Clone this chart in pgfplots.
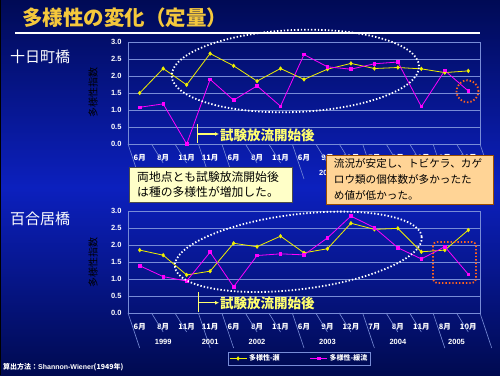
\documentclass[border=0pt]{standalone}
\usepackage{pgfplots}
\pgfplotsset{compat=1.18}
\usepackage{fontspec}
\setmainfont{Noto Sans CJK JP}
\newfontfamily\latin{Liberation Sans}
\usetikzlibrary{arrows.meta}
\definecolor{bgtop}{RGB}{0,10,85}
\definecolor{bgmid}{RGB}{12,32,190}
\definecolor{bgbot}{RGB}{0,10,80}
\definecolor{gridc}{RGB}{120,140,215}
\definecolor{gold}{RGB}{245,200,60}
\definecolor{yel}{RGB}{240,240,0}
\definecolor{mag}{RGB}{255,0,255}
\definecolor{anno}{RGB}{255,255,110}
\definecolor{box1}{RGB}{255,255,200}
\definecolor{box2}{RGB}{255,212,150}
\definecolor{orng}{RGB}{255,100,30}

\pgfplotsset{
  chartstyle/.style={
    scale only axis, width=352pt, height=102pt,
    xmin=-0.5, xmax=14.5, ymin=0, ymax=3,
    ytick={0,0.5,...,3.0},
    yticklabel style={/pgf/number format/fixed,/pgf/number format/precision=1,/pgf/number format/fixed zerofill, font=\latin\bfseries\fontsize{7.5}{8}\selectfont, text=white, xshift=-3pt},
    /pgf/number format/assume math mode=true,
    xtick={0,...,14},
    xticklabels={6月,8月,11月,11月,6月,8月,11月,6月,9月,12月,7月,8月,11月,8月,10月},
    xticklabel style={font=\bfseries\fontsize{7.5}{8}\selectfont, text=white, anchor=center, yshift=-13.5pt},
    major tick length=0pt,
    ymajorgrids, grid style={gridc, line width=0.6pt},
    axis line style={gridc, line width=0.6pt},
    ylabel={多様性指数},
    ylabel style={font=\bfseries\fontsize{6}{6}\selectfont, text=white},
    every axis y label/.style={at={(axis description cs:-0.0994,0.5)}, rotate=90, anchor=center},
    clip=false,
  },
  yser/.style={yel, line width=0.8pt, mark=diamond*, mark size=1.6pt, mark options={yel}},
  mser/.style={mag, line width=0.8pt, mark=square*, mark size=1.3pt, mark options={mag}},
}

\newcommand{\separators}{%
  \pgfplotsinvokeforeach{0.5,1.5,4.5,5.5,7.5,8.5,10.5,11.5,13.5}{\draw[gridc, line width=0.6pt] (axis cs:##1,0) -- ++(0,-19pt);}
  \pgfplotsinvokeforeach{-0.5,2.5,3.5,6.5,9.5,12.5,14.5}{\draw[gridc, line width=0.6pt] (axis cs:##1,0) -- ++(0,-35pt);}
}
\newcommand{\yr}[2]{\node[font=\latin\bfseries\fontsize{7.5}{8}\selectfont, text=white] at ([yshift=-29pt]axis cs:#1,0) {#2};}

\begin{document}
\begin{tikzpicture}[x=1pt,y=1pt]
\useasboundingbox (0,0) rectangle (500,375);
\shade[top color=bgtop, bottom color=bgbot, middle color=bgmid] (0,0) rectangle (500,375);
\draw[black, line width=1pt] (0.5,0) -- (0.5,375);

% title
\node[anchor=west, font=\bfseries\fontsize{20.5}{22}\selectfont, text=gold, inner sep=0] at (22,357) {多様性の変化（定量）};
\draw[white, line width=1.6pt] (15,341.7) -- (480,341.7);
\node[anchor=west, font=\fontsize{15}{16}\selectfont, text=white, inner sep=0] at (10,318) {十日町橋};
\node[anchor=west, font=\fontsize{15}{16}\selectfont, text=white, inner sep=0] at (10,155.7) {百合居橋};

% top chart
\begin{axis}[chartstyle, at={(128pt,231pt)}, anchor=south west]
\separators
\yr{8}{2003}
\addplot[yser] coordinates {(0,1.50) (1,2.22) (2,1.74) (3,2.66) (4,2.30) (5,1.85) (6,2.22) (7,1.90) (8,2.20) (9,2.37) (10,2.22) (11,2.25) (12,2.21) (13,2.10) (14,2.15)};
\addplot[mser] coordinates {(0,1.08) (1,1.18) (2,0.00) (3,1.90) (4,1.29) (5,1.71) (6,1.11) (7,2.63) (8,2.27) (9,2.20) (10,2.36) (11,2.41) (12,1.10) (13,2.16) (14,1.56)};
\end{axis}

% bottom chart
\begin{axis}[chartstyle, at={(128pt,62pt)}, anchor=south west,
  legend style={at={(axis description cs:0.284,-0.446)}, anchor=west, fill=none, draw=gridc, text=white,
    font=\bfseries\fontsize{7}{8}\selectfont, legend columns=2, inner sep=1pt,
    /tikz/every even column/.append style={column sep=28pt}},
  legend image post style={line width=0.8pt}]
\separators
\yr{1}{1999}\yr{3}{2001}\yr{5}{2002}\yr{8}{2003}\yr{11}{2004}\yr{13.5}{2005}
\addplot[yser] coordinates {(0,1.85) (1,1.70) (2,1.12) (3,1.23) (4,2.05) (5,1.95) (6,2.26) (7,1.77) (8,1.89) (9,2.64) (10,2.46) (11,2.49) (12,1.80) (13,1.85) (14,2.44)};
\addlegendentry{多様性-瀬}
\addplot[mser] coordinates {(0,1.39) (1,1.07) (2,0.94) (3,1.79) (4,0.77) (5,1.69) (6,1.74) (7,1.71) (8,2.21) (9,2.85) (10,2.51) (11,1.92) (12,1.59) (13,1.95) (14,1.14)};
\addlegendentry{多様性-緩流}
\end{axis}

% dotted ellipses
\draw[white, line width=1.8pt, dash pattern=on 1.4pt off 2pt, rotate around={2.3:(295.4,304)}] (295.4,304) ellipse [x radius=123.7, y radius=41];
\draw[white, line width=1.8pt, dash pattern=on 1.4pt off 2pt, rotate around={7:(298.3,123.2)}] (298.3,123.2) ellipse [x radius=124.3, y radius=37.5];
\draw[orng, line width=1.8pt, dash pattern=on 1.4pt off 2pt] (467.5,283.7) circle [radius=11];
\draw[orng, line width=1.8pt, dash pattern=on 1.4pt off 2pt, rounded corners=4pt] (433,133) rectangle (476,92);

% annotations
\draw[anno, line width=1.2pt] (197.7,251) -- (197.7,231.7);
\draw[anno, line width=1.2pt, -{Latex[length=4pt,width=4pt]}] (197.7,241) -- (219,241);
\node[anchor=west, font=\bfseries\fontsize{13.5}{14}\selectfont, text=anno, inner sep=0] at (220,239.5) {試験放流開始後};
\draw[anno, line width=1.2pt] (198.7,83) -- (198.7,63.3);
\draw[anno, line width=1.2pt, -{Latex[length=4pt,width=4pt]}] (198.7,72.3) -- (219,72.3);
\node[anchor=west, font=\bfseries\fontsize{13.5}{14}\selectfont, text=anno, inner sep=0] at (220,71.5) {試験放流開始後};

% callouts
\draw[fill=box1, draw=gray!60!black, line width=0.6pt] (129,208) rectangle (292,173);
\node[anchor=center, align=left, font=\fontsize{11.8}{15.4}\selectfont, text=black, inner sep=0] at (208,190.5) {両地点とも試験放流開始後\\は種の多様性が増加した。};
\draw[fill=box2, draw=orange!60!black, line width=0.6pt] (326,220) rectangle (493,171);
\node[anchor=center, align=left, font=\fontsize{10.6}{16.2}\selectfont, text=black, inner sep=0] at (408,195.5) {流況が安定し、トビケラ、カゲ\\ロウ類の個体数が多かったた\\め値が低かった。};

% footer
\node[anchor=west, font=\bfseries\fontsize{7}{8}\selectfont, text=white, inner sep=0] at (3,8) {算出方法：{\latin Shannon-Wiener}(1949年)};
\end{tikzpicture}
\end{document}
